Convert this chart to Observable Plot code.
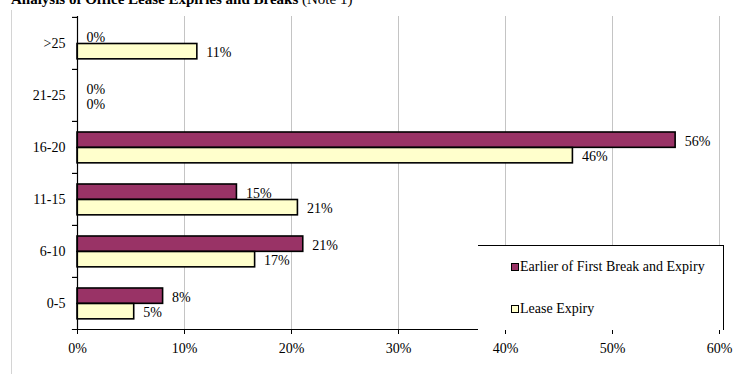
<!DOCTYPE html>
<html>
<head>
<meta charset="utf-8">
<script src="https://cdn.jsdelivr.net/npm/d3@7"></script>
<script src="https://cdn.jsdelivr.net/npm/@observablehq/plot@0.6"></script>
<style>
  html, body { margin: 0; padding: 0; background: #fff; }
  #wrap { position: relative; width: 735px; height: 374px; overflow: hidden; font-family: "Liberation Serif", serif; }
  #title { position: absolute; left: 11px; top: -8px; font-size: 15px; line-height: 15px; white-space: nowrap; color: #000; }
  #title b { font-weight: bold; }
  #leftline { position: absolute; left: 11px; top: 10px; width: 1px; height: 364px; background: #d4d4d4; }
  #legend { position: absolute; left: 478px; top: 245px; width: 245px; height: 84px; background: #fff; border-top: 1px solid #000; border-right: 1px solid #000; font-size: 14px; color: #000; }
  .item { position: absolute; left: 33px; display: flex; align-items: center; white-space: nowrap; }
  .sw { width: 6px; height: 6px; border: 1px solid #000; margin-right: 1px; }
  svg { position: absolute; left: 0; top: 0; }
  svg text { font-family: "Liberation Serif", serif; }
</style>
</head>
<body>
<div id="wrap">
  <div id="leftline"></div>
  <div id="chart"></div>
  <div id="title"><b>Analysis of Office Lease Expiries and Breaks</b> (Note 1)</div>
  <div id="legend"></div>
</div>
<script>
const categories = [">25", "21-25", "16-20", "11-15", "6-10", "0-5"];
const seriesNames = ["Earlier of First Break and Expiry", "Lease Expiry"];
const breakValues = [0, 0, 55.9, 14.9, 21.1, 8.0];
const expiryValues = [11.2, 0, 46.3, 20.6, 16.6, 5.3];
const xTicks = [0, 0.1, 0.2, 0.3, 0.4, 0.5, 0.6];
const colors = ["#993366", "#FFFFCC"];

const breakData = categories.map((c, i) => ({cat: c, v: breakValues[i] / 100}));
const expiryData = categories.map((c, i) => ({cat: c, v: expiryValues[i] / 100}));

const H = 374, MT = 16, MB = 45;
const step = (H - MT - MB) / categories.length;
const pct = d3.format(".0%");
const lbl = d => Math.round(d.v * 100) + "%";

const chart = Plot.plot({
  width: 735,
  height: H,
  marginTop: MT,
  marginBottom: MB,
  marginLeft: 77,
  marginRight: 16,
  style: {fontFamily: "Liberation Serif, serif", fontSize: "14px", color: "#000", background: "transparent", overflow: "visible"},
  x: {domain: [0, 0.6]},
  y: {domain: categories, padding: 0},
  marks: [
    Plot.gridX(xTicks, {stroke: "#c4c4c4", strokeOpacity: 1}),
    Plot.barX(breakData, {x: "v", y: "cat", fill: colors[0], stroke: "#000", strokeWidth: 1.6, insetTop: 11, insetBottom: step - 26.5}),
    Plot.barX(expiryData, {x: "v", y: "cat", fill: colors[1], stroke: "#000", strokeWidth: 1.6, insetTop: 26.5, insetBottom: step - 42}),
    Plot.text(breakData, {x: "v", y: "cat", text: lbl, textAnchor: "start", dx: 9, dy: -5.5, fill: "#000", fontSize: 14}),
    Plot.text(expiryData, {x: "v", y: "cat", text: lbl, textAnchor: "start", dx: 9, dy: 9.5, fill: "#000", fontSize: 14}),
    Plot.ruleX([0], {stroke: "#000", strokeWidth: 1.2}),
    Plot.ruleY(categories, {y: d => d, x1: 0, x2: 0, insetLeft: -5, dy: -step / 2, stroke: "#000", strokeWidth: 1.2}),
    Plot.frame({anchor: "bottom", insetLeft: -5, stroke: "#000", strokeWidth: 1.2}),
    Plot.axisY({tickSize: 0, tickPadding: 12, label: null, fontSize: 14}),
    Plot.axisX(xTicks, {tickSize: 5, tickPadding: 9, tickFormat: pct, label: null, stroke: "#000", fontSize: 14})
  ]
});
document.getElementById("chart").appendChild(chart);

const legend = document.getElementById("legend");
[[seriesNames[0], colors[0], 13], [seriesNames[1], colors[1], 55]].forEach(([name, col, top]) => {
  const it = document.createElement("div");
  it.className = "item";
  it.style.top = top + "px";
  const sw = document.createElement("span");
  sw.className = "sw";
  sw.style.background = col;
  const t = document.createElement("span");
  t.textContent = name;
  it.appendChild(sw); it.appendChild(t);
  legend.appendChild(it);
});
</script>
</body>
</html>
